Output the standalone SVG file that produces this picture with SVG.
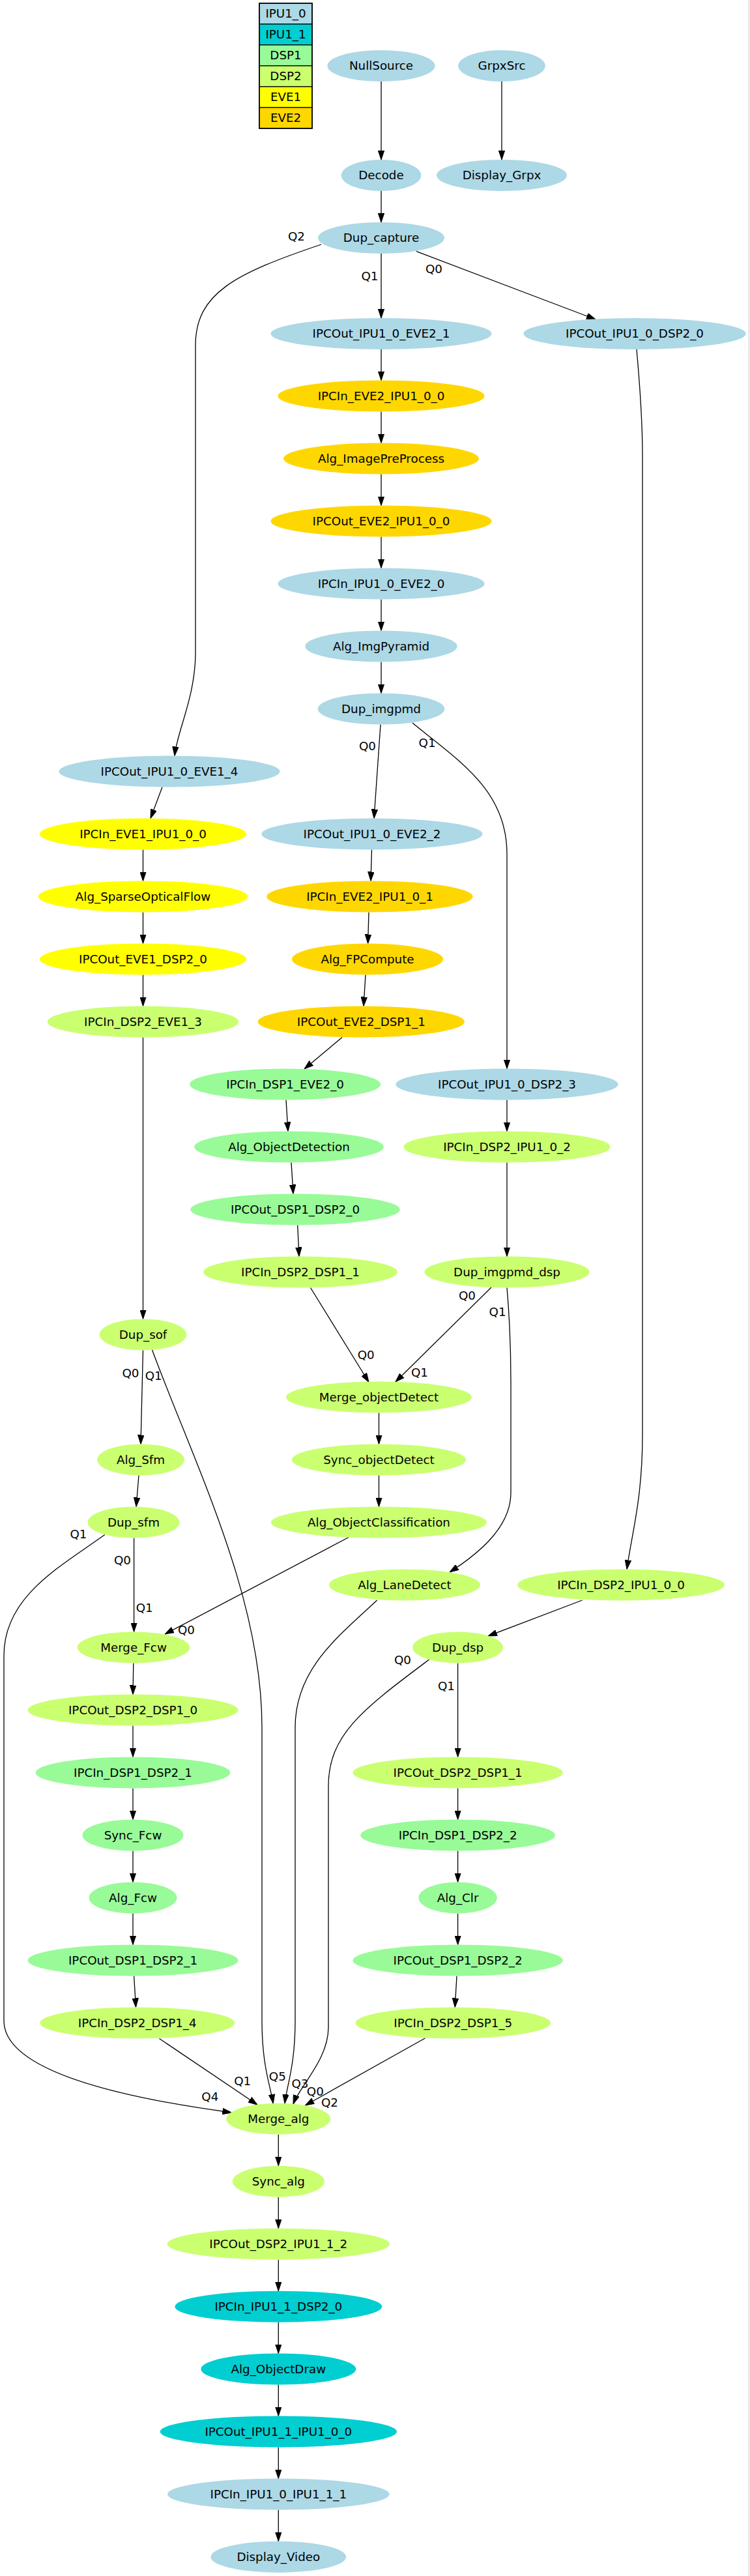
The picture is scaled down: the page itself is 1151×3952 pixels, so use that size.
<svg xmlns="http://www.w3.org/2000/svg" width="1151" height="3952" viewBox="0 0 1151 3952">
<style>
text{font-family:"DejaVu Sans","Liberation Sans",sans-serif;font-size:18.3px;fill:#000;text-anchor:middle}
.lb{fill:#add8e6}.dt{fill:#00ced1}.pg{fill:#98fb98}.gy{fill:#caff70}.ye{fill:#ffff00}.go{fill:#ffd700}
.cell{stroke:#000;stroke-width:1.2}
#edges path{fill:none;stroke:#000;stroke-width:1.3;marker-end:url(#ah)}
</style>
<defs>
<marker id="ah" markerWidth="14" markerHeight="10" viewBox="0 0 14 10" refX="14" refY="5" orient="auto" markerUnits="userSpaceOnUse"><path d="M0,0.3 L14,5 L0,9.7 z" fill="#000" stroke="#000" stroke-width="1"/></marker>
</defs>
<rect width="1151" height="3952" fill="#fff"/>
<line x1="1149.5" y1="0" x2="1149.5" y2="3952" stroke="#c8c8c8" stroke-width="1"/>
<g id="legend">
<rect class="cell lb" x="398" y="5" width="81" height="32"/>
<rect class="cell dt" x="398" y="37" width="81" height="32"/>
<rect class="cell pg" x="398" y="69" width="81" height="32"/>
<rect class="cell gy" x="398" y="101" width="81" height="32"/>
<rect class="cell ye" x="398" y="133" width="81" height="32"/>
<rect class="cell go" x="398" y="165" width="81" height="32"/>
<rect x="398" y="5" width="81" height="192" fill="none" stroke="#000" stroke-width="1.6"/>
<text x="438.5" y="27">IPU1_0</text>
<text x="438.5" y="59">IPU1_1</text>
<text x="438.5" y="91">DSP1</text>
<text x="438.5" y="123">DSP2</text>
<text x="438.5" y="155">EVE1</text>
<text x="438.5" y="187">EVE2</text>
</g>
<g id="edges">
<path d="M585,125 V245"/>
<path d="M770,125 V245"/>
<path d="M585,293 V341"/>
<path d="M639,385.7 L914,490"/>
<path d="M585,389 V488"/>
<path d="M493,375 C360,420 300,450 300,530 V1000 C300,1070 272,1120 268,1159.5"/>
<path d="M585,536 V583.5"/>
<path d="M585,631.5 V679.5"/>
<path d="M585,727.5 V775.5"/>
<path d="M585,823.5 V871.5"/>
<path d="M585,919.5 V967.5"/>
<path d="M585,1015.5 V1063.5"/>
<path d="M584,1111.5 L574,1255.5"/>
<path d="M633,1109 C700,1165 778,1210 778,1310 V1639.5"/>
<path d="M249,1207.5 L231,1255.5"/>
<path d="M219.5,1303.5 V1351.5"/>
<path d="M219.5,1399.5 V1447.5"/>
<path d="M219.5,1495.5 V1543.5"/>
<path d="M570.5,1303.5 L569,1351.5"/>
<path d="M566,1399.5 L564.6,1447.5"/>
<path d="M561,1495.5 L558,1543.5"/>
<path d="M525,1591.5 L467,1640"/>
<path d="M439,1687.5 L442,1735.5"/>
<path d="M447,1783.5 L450,1831.5"/>
<path d="M456.7,1879.5 L459,1927.5"/>
<path d="M778,1687.5 V1735.5"/>
<path d="M778,1783.5 V1927.5"/>
<path d="M977,536 C981,580 986,640 986,700 V2200 C986,2300 970,2350 962,2407.5"/>
<path d="M476.5,1975.5 L566,2120.5"/>
<path d="M754,1975 L607,2120"/>
<path d="M778,1975.5 C781,2010 784,2060 784,2120 V2290 C784,2340 740,2380 690,2412"/>
<path d="M219.5,1591.5 V2023.5"/>
<path d="M219.5,2071.5 L216,2215.5"/>
<path d="M233.5,2071 C300,2250 402,2450 402,2650 V3100 C402,3170 415,3200 419.2,3227"/>
<path d="M581.5,2167.5 V2215.5"/>
<path d="M581.5,2263.5 V2311.5"/>
<path d="M213,2263.5 L209,2311.5"/>
<path d="M535,2358.5 L253,2507"/>
<path d="M205.6,2359.5 V2503.5"/>
<path d="M160.8,2354.5 C90,2405 6,2450 6,2540 V3100 C6,3180 200,3220 355.4,3241"/>
<path d="M578.6,2455 C520,2510 453,2560 453,2650 V3100 C453,3170 440,3200 437,3227"/>
<path d="M893.5,2455 L749,2510"/>
<path d="M204.8,2551.5 L204,2599.5"/>
<path d="M204,2647.5 V2695.5"/>
<path d="M204,2743.5 V2791.5"/>
<path d="M204,2839.5 V2887.5"/>
<path d="M204,2935.5 V2983.5"/>
<path d="M205.6,3031.5 L208.5,3079.5"/>
<path d="M658.6,2546 C560,2620 504,2660 504,2740 V3110 C504,3160 460,3200 450,3228"/>
<path d="M702.6,2551.5 V2695.5"/>
<path d="M702.6,2743.5 V2791.5"/>
<path d="M702.6,2839.5 V2887.5"/>
<path d="M702.6,2935.5 V2983.5"/>
<path d="M701,3031.5 L698.2,3079.5"/>
<path d="M244.5,3127.5 L395,3229"/>
<path d="M652.7,3126.7 L468.4,3230"/>
<path d="M427.3,3274.7 V3322.7"/>
<path d="M427.3,3370.7 V3418.7"/>
<path d="M427.3,3466.7 V3514.7"/>
<path d="M427.3,3562.7 V3610.5"/>
<path d="M427.3,3658.5 V3706.5"/>
<path d="M427.3,3754.5 V3802.5"/>
<path d="M427.3,3850.5 V3898.7"/>
</g>
<g id="edge-labels">
<text x="455" y="369">Q2</text>
<text x="567.5" y="430">Q1</text>
<text x="666" y="418.7">Q0</text>
<text x="564" y="1151.3">Q0</text>
<text x="655.6" y="1146">Q1</text>
<text x="717" y="1994.3">Q0</text>
<text x="763.6" y="2018.7">Q1</text>
<text x="561.7" y="2084.7">Q0</text>
<text x="644" y="2112">Q1</text>
<text x="200.4" y="2112.7">Q0</text>
<text x="235.7" y="2116.7">Q1</text>
<text x="120.4" y="2360.3">Q1</text>
<text x="188" y="2400.3">Q0</text>
<text x="221.7" y="2472.7">Q1</text>
<text x="286" y="2507">Q0</text>
<text x="618" y="2552.7">Q0</text>
<text x="685" y="2592.7">Q1</text>
<text x="322.3" y="3223">Q4</text>
<text x="372.2" y="3199.3">Q1</text>
<text x="425.8" y="3191.7">Q5</text>
<text x="460.4" y="3202.7">Q3</text>
<text x="483.8" y="3214.7">Q0</text>
<text x="505.9" y="3231.7">Q2</text>
</g>
<g id="n_NullSource"><ellipse class="lb" cx="585" cy="101" rx="82.6" ry="24"/><text x="585" y="107">NullSource</text></g>
<g id="n_GrpxSrc"><ellipse class="lb" cx="770" cy="101" rx="66.8" ry="24"/><text x="770" y="107">GrpxSrc</text></g>
<g id="n_Decode"><ellipse class="lb" cx="585" cy="269" rx="61.3" ry="24"/><text x="585" y="275">Decode</text></g>
<g id="n_Display_Grpx"><ellipse class="lb" cx="770" cy="269" rx="100" ry="24"/><text x="770" y="275">Display_Grpx</text></g>
<g id="n_Dup_capture"><ellipse class="lb" cx="585" cy="365" rx="97" ry="24"/><text x="585" y="371">Dup_capture</text></g>
<g id="n_IPCOut_IPU1_0_EVE2_1"><ellipse class="lb" cx="585" cy="512" rx="169.6" ry="24"/><text x="585" y="518">IPCOut_IPU1_0_EVE2_1</text></g>
<g id="n_IPCOut_IPU1_0_DSP2_0"><ellipse class="lb" cx="974" cy="512" rx="170.7" ry="24"/><text x="974" y="518">IPCOut_IPU1_0_DSP2_0</text></g>
<g id="n_IPCIn_EVE2_IPU1_0_0"><ellipse class="go" cx="585" cy="607.5" rx="158.6" ry="24"/><text x="585" y="613.5">IPCIn_EVE2_IPU1_0_0</text></g>
<g id="n_Alg_ImagePreProcess"><ellipse class="go" cx="585" cy="703.5" rx="150" ry="24"/><text x="585" y="709.5">Alg_ImagePreProcess</text></g>
<g id="n_IPCOut_EVE2_IPU1_0_0"><ellipse class="go" cx="585" cy="799.5" rx="169.6" ry="24"/><text x="585" y="805.5">IPCOut_EVE2_IPU1_0_0</text></g>
<g id="n_IPCIn_IPU1_0_EVE2_0"><ellipse class="lb" cx="585" cy="895.5" rx="158.6" ry="24"/><text x="585" y="901.5">IPCIn_IPU1_0_EVE2_0</text></g>
<g id="n_Alg_ImgPyramid"><ellipse class="lb" cx="585" cy="991.5" rx="116.7" ry="24"/><text x="585" y="997.5">Alg_ImgPyramid</text></g>
<g id="n_Dup_imgpmd"><ellipse class="lb" cx="585" cy="1087.5" rx="97.3" ry="24"/><text x="585" y="1093.5">Dup_imgpmd</text></g>
<g id="n_IPCOut_IPU1_0_EVE1_4"><ellipse class="lb" cx="260" cy="1183.5" rx="169.6" ry="24"/><text x="260" y="1189.5">IPCOut_IPU1_0_EVE1_4</text></g>
<g id="n_IPCIn_EVE1_IPU1_0_0"><ellipse class="ye" cx="219.5" cy="1279.5" rx="158.6" ry="24"/><text x="219.5" y="1285.5">IPCIn_EVE1_IPU1_0_0</text></g>
<g id="n_IPCOut_IPU1_0_EVE2_2"><ellipse class="lb" cx="571" cy="1279.5" rx="169.6" ry="24"/><text x="571" y="1285.5">IPCOut_IPU1_0_EVE2_2</text></g>
<g id="n_Alg_SparseOpticalFlow"><ellipse class="ye" cx="219.5" cy="1375.5" rx="160.8" ry="24"/><text x="219.5" y="1381.5">Alg_SparseOpticalFlow</text></g>
<g id="n_IPCIn_EVE2_IPU1_0_1"><ellipse class="go" cx="567.5" cy="1375.5" rx="158.2" ry="24"/><text x="567.5" y="1381.5">IPCIn_EVE2_IPU1_0_1</text></g>
<g id="n_IPCOut_EVE1_DSP2_0"><ellipse class="ye" cx="219.5" cy="1471.5" rx="158.6" ry="24"/><text x="219.5" y="1477.5">IPCOut_EVE1_DSP2_0</text></g>
<g id="n_Alg_FPCompute"><ellipse class="go" cx="564" cy="1471.5" rx="116" ry="24"/><text x="564" y="1477.5">Alg_FPCompute</text></g>
<g id="n_IPCIn_DSP2_EVE1_3"><ellipse class="gy" cx="219.5" cy="1567.5" rx="146.8" ry="24"/><text x="219.5" y="1573.5">IPCIn_DSP2_EVE1_3</text></g>
<g id="n_IPCOut_EVE2_DSP1_1"><ellipse class="go" cx="554.3" cy="1567.5" rx="158.6" ry="24"/><text x="554.3" y="1573.5">IPCOut_EVE2_DSP1_1</text></g>
<g id="n_IPCIn_DSP1_EVE2_0"><ellipse class="pg" cx="437.6" cy="1663.5" rx="146.5" ry="24"/><text x="437.6" y="1669.5">IPCIn_DSP1_EVE2_0</text></g>
<g id="n_IPCOut_IPU1_0_DSP2_3"><ellipse class="lb" cx="778" cy="1663.5" rx="170.7" ry="24"/><text x="778" y="1669.5">IPCOut_IPU1_0_DSP2_3</text></g>
<g id="n_Alg_ObjectDetection"><ellipse class="pg" cx="443.5" cy="1759.5" rx="145.4" ry="24"/><text x="443.5" y="1765.5">Alg_ObjectDetection</text></g>
<g id="n_IPCIn_DSP2_IPU1_0_2"><ellipse class="gy" cx="778" cy="1759.5" rx="158.6" ry="24"/><text x="778" y="1765.5">IPCIn_DSP2_IPU1_0_2</text></g>
<g id="n_IPCOut_DSP1_DSP2_0"><ellipse class="pg" cx="453" cy="1855.5" rx="160.8" ry="24"/><text x="453" y="1861.5">IPCOut_DSP1_DSP2_0</text></g>
<g id="n_IPCIn_DSP2_DSP1_1"><ellipse class="gy" cx="461" cy="1951.5" rx="149" ry="24"/><text x="461" y="1957.5">IPCIn_DSP2_DSP1_1</text></g>
<g id="n_Dup_imgpmd_dsp"><ellipse class="gy" cx="778" cy="1951.5" rx="126.6" ry="24"/><text x="778" y="1957.5">Dup_imgpmd_dsp</text></g>
<g id="n_Dup_sof"><ellipse class="gy" cx="219.5" cy="2047.5" rx="66.8" ry="24"/><text x="219.5" y="2053.5">Dup_sof</text></g>
<g id="n_Merge_objectDetect"><ellipse class="gy" cx="581.5" cy="2143.5" rx="142.4" ry="24"/><text x="581.5" y="2149.5">Merge_objectDetect</text></g>
<g id="n_Alg_Sfm"><ellipse class="gy" cx="216" cy="2239.5" rx="66.8" ry="24"/><text x="216" y="2245.5">Alg_Sfm</text></g>
<g id="n_Sync_objectDetect"><ellipse class="gy" cx="581.5" cy="2239.5" rx="133.6" ry="24"/><text x="581.5" y="2245.5">Sync_objectDetect</text></g>
<g id="n_Dup_sfm"><ellipse class="gy" cx="205" cy="2335.5" rx="70.5" ry="24"/><text x="205" y="2341.5">Dup_sfm</text></g>
<g id="n_Alg_ObjectClassification"><ellipse class="gy" cx="581.5" cy="2335.5" rx="165.6" ry="24"/><text x="581.5" y="2341.5">Alg_ObjectClassification</text></g>
<g id="n_Alg_LaneDetect"><ellipse class="gy" cx="621" cy="2431.5" rx="116" ry="24"/><text x="621" y="2437.5">Alg_LaneDetect</text></g>
<g id="n_IPCIn_DSP2_IPU1_0_0"><ellipse class="gy" cx="953" cy="2431.5" rx="159" ry="24"/><text x="953" y="2437.5">IPCIn_DSP2_IPU1_0_0</text></g>
<g id="n_Merge_Fcw"><ellipse class="gy" cx="205" cy="2527.5" rx="86.3" ry="24"/><text x="205" y="2533.5">Merge_Fcw</text></g>
<g id="n_Dup_dsp"><ellipse class="gy" cx="702.6" cy="2527.5" rx="69.4" ry="24"/><text x="702.6" y="2533.5">Dup_dsp</text></g>
<g id="n_IPCOut_DSP2_DSP1_0"><ellipse class="gy" cx="204" cy="2623.5" rx="161.5" ry="24"/><text x="204" y="2629.5">IPCOut_DSP2_DSP1_0</text></g>
<g id="n_IPCIn_DSP1_DSP2_1"><ellipse class="pg" cx="204" cy="2719.5" rx="149.4" ry="24"/><text x="204" y="2725.5">IPCIn_DSP1_DSP2_1</text></g>
<g id="n_IPCOut_DSP2_DSP1_1"><ellipse class="gy" cx="702.6" cy="2719.5" rx="161.2" ry="24"/><text x="702.6" y="2725.5">IPCOut_DSP2_DSP1_1</text></g>
<g id="n_Sync_Fcw"><ellipse class="pg" cx="204" cy="2815.5" rx="77.5" ry="24"/><text x="204" y="2821.5">Sync_Fcw</text></g>
<g id="n_IPCIn_DSP1_DSP2_2"><ellipse class="pg" cx="702.6" cy="2815.5" rx="149.4" ry="24"/><text x="702.6" y="2821.5">IPCIn_DSP1_DSP2_2</text></g>
<g id="n_Alg_Fcw"><ellipse class="pg" cx="204" cy="2911.5" rx="67.5" ry="24"/><text x="204" y="2917.5">Alg_Fcw</text></g>
<g id="n_Alg_Clr"><ellipse class="pg" cx="702.6" cy="2911.5" rx="60.2" ry="24"/><text x="702.6" y="2917.5">Alg_Clr</text></g>
<g id="n_IPCOut_DSP1_DSP2_1"><ellipse class="pg" cx="204" cy="3007.5" rx="161.5" ry="24"/><text x="204" y="3013.5">IPCOut_DSP1_DSP2_1</text></g>
<g id="n_IPCOut_DSP1_DSP2_2"><ellipse class="pg" cx="702.6" cy="3007.5" rx="161.2" ry="24"/><text x="702.6" y="3013.5">IPCOut_DSP1_DSP2_2</text></g>
<g id="n_IPCIn_DSP2_DSP1_4"><ellipse class="gy" cx="210.7" cy="3103.5" rx="149.4" ry="24"/><text x="210.7" y="3109.5">IPCIn_DSP2_DSP1_4</text></g>
<g id="n_IPCIn_DSP2_DSP1_5"><ellipse class="gy" cx="695.3" cy="3103.5" rx="149.8" ry="24"/><text x="695.3" y="3109.5">IPCIn_DSP2_DSP1_5</text></g>
<g id="n_Merge_alg"><ellipse class="gy" cx="427.3" cy="3250.7" rx="80" ry="24"/><text x="427.3" y="3256.7">Merge_alg</text></g>
<g id="n_Sync_alg"><ellipse class="gy" cx="427.3" cy="3346.7" rx="70.5" ry="24"/><text x="427.3" y="3352.7">Sync_alg</text></g>
<g id="n_IPCOut_DSP2_IPU1_1_2"><ellipse class="gy" cx="427.3" cy="3442.7" rx="170.7" ry="24"/><text x="427.3" y="3448.7">IPCOut_DSP2_IPU1_1_2</text></g>
<g id="n_IPCIn_IPU1_1_DSP2_0"><ellipse class="dt" cx="427.3" cy="3538.7" rx="159" ry="24"/><text x="427.3" y="3544.7">IPCIn_IPU1_1_DSP2_0</text></g>
<g id="n_Alg_ObjectDraw"><ellipse class="dt" cx="427.3" cy="3634.5" rx="119" ry="24"/><text x="427.3" y="3640.5">Alg_ObjectDraw</text></g>
<g id="n_IPCOut_IPU1_1_IPU1_0_0"><ellipse class="dt" cx="427.3" cy="3730.5" rx="181.7" ry="24"/><text x="427.3" y="3736.5">IPCOut_IPU1_1_IPU1_0_0</text></g>
<g id="n_IPCIn_IPU1_0_IPU1_1_1"><ellipse class="lb" cx="427.3" cy="3826.5" rx="170.3" ry="24"/><text x="427.3" y="3832.5">IPCIn_IPU1_0_IPU1_1_1</text></g>
<g id="n_Display_Video"><ellipse class="lb" cx="427.3" cy="3922.7" rx="103.9" ry="24"/><text x="427.3" y="3928.7">Display_Video</text></g>
</svg>
